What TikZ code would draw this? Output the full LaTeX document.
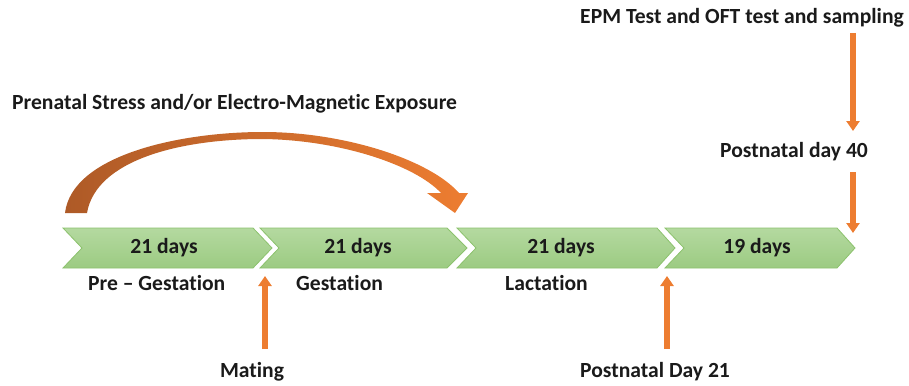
\documentclass[tikz,border=0pt]{standalone}
\usepackage{fontspec}
\setmainfont[Ligatures=NoCommon]{Carlito}
\usetikzlibrary{arrows.meta}
\definecolor{chevtop}{HTML}{B4D9A0}
\definecolor{chevbot}{HTML}{9CCB82}
\definecolor{chevline}{HTML}{8CC26D}
\definecolor{arrorange}{HTML}{ED7D31}
\definecolor{arrdark}{HTML}{AE5A27}
\definecolor{txt}{HTML}{1A1A1A}
\tikzset{
  lbl/.style={font=\fontsize{21.6}{24}\selectfont\bfseries, text=txt, inner sep=0pt},
  chevron/.style={top color=chevtop, bottom color=chevbot, draw=chevline, line width=0.8pt, line join=miter},
  blockarrow/.style={draw=arrorange, line width=6pt,
    -{Triangle[length=10pt, width=13pt]}},
}
\begin{document}
\begin{tikzpicture}[x=1pt,y=-1pt]
\useasboundingbox (0,0) rectangle (909,385);

% timeline chevrons: left edge, top-right corner, tip
\foreach \L/\R/\T/\n in {63/253/272/c1, 260/447/467/c2, 457/657/675/c3, 665/837/855/c4}{
  \path[chevron] (\L,228) -- (\R,228) -- (\T,248) -- (\R,268) -- (\L,268) -- (\L+19,248) -- cycle;
}
\node[lbl] (d1) at (164,248) {21 days};
\node[lbl] (d2) at (358,248) {21 days};
\node[lbl] (d3) at (561,248) {21 days};
\node[lbl] (d4) at (757,248) {19 days};

% phase names under the chevrons
\node[lbl, anchor=west] (pre)  at (88,283)  {Pre -- Gestation};
\node[lbl, anchor=west] (gest) at (296,283) {Gestation};
\node[lbl, anchor=west] (lact) at (505,283) {Lactation};

% events below the timeline
\node[lbl] (mating) at (252,372) {Mating};
\node[lbl] (pnd21)  at (655,372) {Postnatal Day 21};
\coordinate (matingtip) at (265,276);
\coordinate (pnd21tip)  at (667,276);
\draw[blockarrow] (265,349) -- (matingtip);
\draw[blockarrow] (667,349) -- (pnd21tip);

% events above the timeline
\node[lbl] (epm)   at (742,18)  {EPM Test and OFT test and sampling};
\node[lbl] (pnd40) at (794,152) {Postnatal day 40};
\coordinate (pnd40top) at (853,131);
\coordinate (c4top)    at (853,233);
\draw[blockarrow] (853,33) -- (pnd40top);
\draw[blockarrow] (853,172) -- (c4top);

% exposure window: tapered curved arrow
\node[lbl, anchor=west] (expo) at (12,104) {Prenatal Stress and/or Electro-Magnetic Exposure};
\path[left color=arrdark, right color=arrorange]
  (65,213) .. controls (72,155) and (180,132) .. (263,132)
           .. controls (345,132) and (430,160) .. (459,193)
  -- (468,193) -- (455,213) -- (427,193) -- (441,193)
           .. controls (415,165) and (340,140) .. (263,139)
           .. controls (180,139) and (96,160) .. (87,213)
  -- cycle;
\end{tikzpicture}
\end{document}
